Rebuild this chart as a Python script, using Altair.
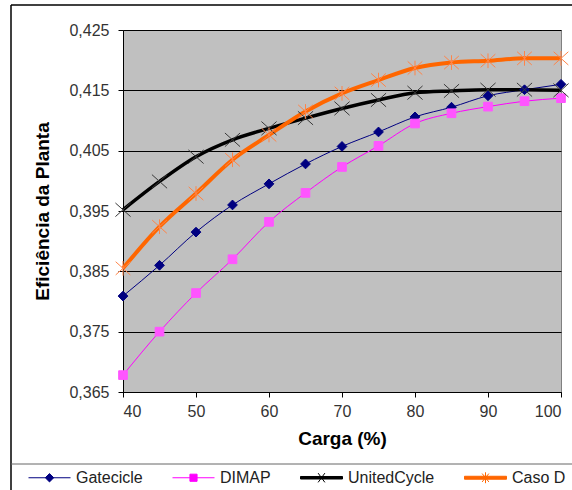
import altair as alt
import pandas as pd

# Plant efficiency versus load for four simulation tools
carga = [40, 45, 50, 55, 60, 65, 70, 75, 80, 85, 90, 95, 100]
gatecicle = [0.3809, 0.3860, 0.3915, 0.3960, 0.3995, 0.4028, 0.4057,
             0.4081, 0.4106, 0.4122, 0.4141, 0.4151, 0.4160]
dimap = [0.3678, 0.3750, 0.3814, 0.3870, 0.3932, 0.3980, 0.4023,
         0.4058, 0.4095, 0.4112, 0.4123, 0.4132, 0.4137]
unitedcycle = [0.3952, 0.3999, 0.4040, 0.4068, 0.4087, 0.4104, 0.4120,
               0.4134, 0.4146, 0.4149, 0.4151, 0.4151, 0.4150]
caso_d = [0.3855, 0.3924, 0.3979, 0.4035, 0.4076, 0.4115, 0.4145,
          0.4167, 0.4187, 0.4196, 0.4199, 0.4203, 0.4203]

series = ["Gatecicle", "DIMAP", "UnitedCycle", "Caso D"]
line_colors = ["#000080", "#FF00FF", "#000000", "#FF6600"]
marker_colors = ["#000080", "#FF55FF", "#3A3A3A", "#FF8448"]
line_widths = [1, 1, 3.5, 4]
y_ticks = [0.365, 0.375, 0.385, 0.395, 0.405, 0.415, 0.425]

rows = []
for name, vals in zip(series, [gatecicle, dimap, unitedcycle, caso_d]):
    for c, v in zip(carga, vals):
        rows.append({"Carga": c, "Eficiencia": v, "Serie": name, "Leg": name})
df = pd.DataFrame(rows)

# Marker paths (unit square [-1, 1])
X_PATH = "M-1,-0.9L1,0.9M-1,0.9L1,-0.9"
STAR_PATH = "M-1,-0.9L1,0.9M-1,0.9L1,-0.9M0,-1L0,1"
shapes = ["diamond", "square", X_PATH, STAR_PATH]
marker_sizes = [95, 75, 230, 215]

# Legend symbols: a line segment with the series marker in the middle
leg_paths = [
    "M-1,0H1M0,-0.2L0.2,0L0,0.2L-0.2,0Z",
    "M-1,0H1M-0.17,-0.17H0.17V0.17H-0.17Z",
    "M-1,-0.06H1V0.06H-1ZM-0.16,-0.22L0.16,0.22M-0.16,0.22L0.16,-0.22",
    "M-1,-0.07H1V0.07H-1ZM-0.16,-0.2L0.16,0.2M-0.16,0.2L0.16,-0.2M0,-0.26V0.26",
]

FONT = "Liberation Sans"

x_enc = alt.X(
    "Carga:Q",
    title="Carga (%)",
    scale=alt.Scale(domain=[40, 100], nice=False),
    axis=alt.Axis(
        values=[40, 50, 60, 70, 80, 90, 100], grid=False,
        tickSize=5, tickColor="#000000", domainColor="#000000",
        labelFontSize=16, labelColor="#333333", labelPadding=6,
        titleFontSize=19, titleFontWeight="bold", titlePadding=10,
        labelFont=FONT, titleFont=FONT,
    ),
)
y_enc = alt.Y(
    "Eficiencia:Q",
    title="Eficiência da Planta",
    scale=alt.Scale(domain=[0.365, 0.425], nice=False, zero=False),
    axis=alt.Axis(
        values=y_ticks, grid=True, gridColor="#000000", gridWidth=1,
        tickSize=5, tickColor="#000000", domainColor="#000000",
        labelFontSize=16, labelColor="#333333", labelPadding=9,
        labelExpr="replace(format(datum.value, '.3f'), '.', ',')",
        titleFontSize=19, titleFontWeight="bold", titlePadding=16,
        labelFont=FONT, titleFont=FONT,
    ),
)

# Per series: smoothed line of its own width, then its markers
layers = []
for i, name in enumerate(series):
    base = alt.Chart(df).transform_filter(alt.datum.Serie == name)
    layers.append(
        base.mark_line(interpolate="monotone", color=line_colors[i],
                       strokeWidth=line_widths[i]).encode(
            x=x_enc if i == 0 else alt.X("Carga:Q"),
            y=y_enc if i == 0 else alt.Y("Eficiencia:Q"),
            order=alt.Order("Carga:Q"),
        )
    )
for i, name in enumerate(series):
    base = alt.Chart(df).transform_filter(alt.datum.Serie == name)
    layers.append(
        base.mark_point(shape=shapes[i], size=marker_sizes[i], opacity=1,
                        fill=marker_colors[i], stroke=marker_colors[i],
                        strokeWidth=1).encode(x="Carga:Q", y="Eficiencia:Q")
    )

# Legend-only layer: no rows are drawn, the legend comes from the fixed domains
leg_opts = dict(
    title=None, orient="none", direction="horizontal", columns=4,
    legendX=-95, legendY=426, symbolSize=1764, symbolStrokeWidth=1,
    symbolOpacity=1, labelFontSize=16, labelFont=FONT, labelColor="#222222",
    labelOffset=5, columnPadding=27,
)
legend_layer = alt.Chart(df).mark_point(filled=True).encode(
    x="Carga:Q",
    y="Eficiencia:Q",
    shape=alt.Shape("Leg:N", scale=alt.Scale(domain=series, range=leg_paths),
                    sort=series, legend=alt.Legend(**leg_opts)),
    fill=alt.Fill("Leg:N", scale=alt.Scale(domain=series, range=line_colors),
                  sort=series, legend=alt.Legend(**leg_opts)),
    stroke=alt.Stroke("Leg:N", scale=alt.Scale(domain=series, range=line_colors),
                      sort=series, legend=alt.Legend(**leg_opts)),
).transform_filter("false")

# Outer chart frame and the separator above the legend
frame = alt.Chart(pd.DataFrame({"k": [0]})).mark_rule(color="#000000", strokeWidth=1.5)
top_edge = frame.encode(x=alt.value(-112), x2=alt.value(460), y=alt.value(-25))
left_edge = frame.encode(x=alt.value(-112), y=alt.value(-25), y2=alt.value(470))
sep = alt.Chart(pd.DataFrame({"k": [0]})).mark_rule(color="#666666", strokeWidth=1).encode(
    x=alt.value(-112), x2=alt.value(460), y=alt.value(434)
)

chart = alt.layer(*layers, legend_layer, top_edge, left_edge, sep).properties(
    width=438,
    height=362,
    autosize=alt.AutoSizeParams(type="none"),
    padding={"left": 123, "top": 30, "right": 11, "bottom": 98},
    background="#FFFFFF",
).configure_view(
    fill="#C0C0C0", stroke="#808080", strokeWidth=1
)

chart.save("out.html", embed_options={"renderer": "svg", "actions": False})
